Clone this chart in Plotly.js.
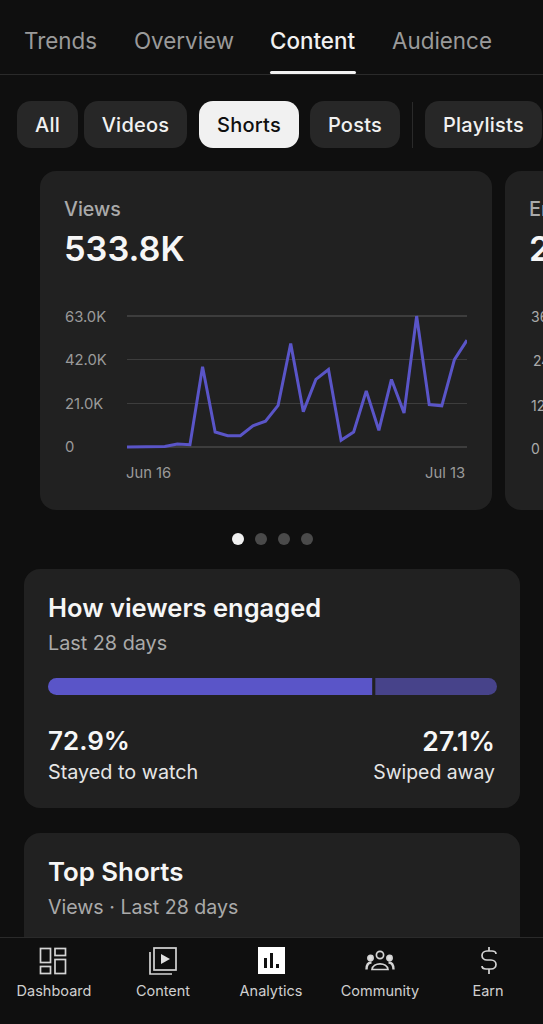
<!DOCTYPE html>
<html><head><meta charset="utf-8">
<script src="https://cdn.plot.ly/plotly-3.0.1.min.js"></script>
<style>
html,body{margin:0;padding:0;background:#0f0f0f;width:543px;height:1024px;overflow:hidden;font-family:Inter,"Noto Sans",sans-serif;color:#f1f1f1}
.a{position:absolute;white-space:nowrap}
.tab{top:27px;font-size:22.4px;line-height:28px;color:#9a9a9a}
.pill{top:101px;height:47px;border-radius:14px;background:#272727;font-size:20px;letter-spacing:.25px;font-weight:500;line-height:49px;text-align:center;color:#f1f1f1}
.card{background:#212121;border-radius:16px}
.dot{top:533px;width:12px;height:12px;border-radius:50%;background:#4a4a4a}
.nav{top:982px;font-size:14.5px;line-height:18px;color:#d0d0d0;transform:translateX(-50%)}
svg.ic{position:absolute;top:947px;fill:none;stroke:#d4d4d4;stroke-width:1.7}
</style></head><body>
<div class="a tab" style="left:24px">Trends</div>
<div class="a tab" style="left:134px">Overview</div>
<div class="a tab" style="left:270px;color:#f1f1f1;font-weight:500">Content</div>
<div class="a tab" style="left:392px">Audience</div>
<div class="a" style="left:0;top:74px;width:543px;height:1px;background:#2a2a2a"></div>
<div class="a" style="left:270px;top:71px;width:86px;height:3px;background:#f1f1f1;border-radius:2px"></div>

<div class="a pill" style="left:17px;width:61px">All</div>
<div class="a pill" style="left:84px;width:103px">Videos</div>
<div class="a pill" style="left:199px;width:100px;background:#f1f1f1;color:#0f0f0f">Shorts</div>
<div class="a pill" style="left:310px;width:90px">Posts</div>
<div class="a" style="left:412px;top:102px;width:1px;height:46px;background:#2a2a2a"></div>
<div class="a pill" style="left:425px;width:117px">Playlists</div>

<div class="a card" style="left:40px;top:171px;width:452px;height:339px"></div>
<div class="a" style="left:64px;top:197px;font-size:19.6px;line-height:24px;color:#aaa;font-weight:500">Views</div>
<div class="a" style="left:64px;top:229px;font-size:34.3px;line-height:40px;font-weight:600;color:#f6f6f6">533.8K</div>
<div id="chart" class="a" style="left:40px;top:290px;width:452px;height:200px"></div>

<div class="a card" style="left:505px;top:171px;width:60px;height:339px;overflow:hidden">
  <div class="a" style="left:24px;top:26px;font-size:20px;line-height:24px;color:#aaa;font-weight:500">En</div>
  <div class="a" style="left:24px;top:58px;font-size:34px;line-height:40px;font-weight:600;color:#f6f6f6">2</div>
  <div class="a" style="left:26px;top:137px;font-size:14px;line-height:18px;color:#aaa">36</div>
  <div class="a" style="left:28px;top:181px;font-size:14px;line-height:18px;color:#aaa">24</div>
  <div class="a" style="left:26px;top:226px;font-size:14px;line-height:18px;color:#aaa">12</div>
  <div class="a" style="left:26px;top:269px;font-size:14px;line-height:18px;color:#aaa">0</div>
</div>

<div class="a dot" style="left:232px;background:#f1f1f1"></div>
<div class="a dot" style="left:255px"></div>
<div class="a dot" style="left:278px"></div>
<div class="a dot" style="left:301px"></div>

<div class="a card" style="left:24px;top:569px;width:496px;height:239px"></div>
<div class="a" style="left:48px;top:593px;font-size:25.5px;line-height:30px;font-weight:600;color:#f6f6f6">How viewers engaged</div>
<div class="a" style="left:48px;top:631px;font-size:19.8px;line-height:24px;color:#aaa">Last 28 days</div>
<div class="a" style="left:48px;top:678px;width:449px;height:17px;border-radius:8.5px;overflow:hidden"><div id="bar" style="width:449px;height:17px"></div></div>
<div class="a" style="left:48px;top:725px;font-size:26px;line-height:32px;font-weight:600;color:#f6f6f6">72.9%</div>
<div class="a" style="left:48px;top:760px;font-size:19.8px;line-height:24px;color:#e6e6e6">Stayed to watch</div>
<div class="a" style="right:48px;top:725px;font-size:26.6px;line-height:32px;font-weight:600;color:#f6f6f6">27.1%</div>
<div class="a" style="right:48px;top:760px;font-size:19.4px;line-height:24px;color:#e6e6e6">Swiped away</div>

<div class="a card" style="left:24px;top:833px;width:496px;height:120px"></div>
<div class="a" style="left:48px;top:857px;font-size:25.8px;line-height:30px;font-weight:600;color:#f6f6f6">Top Shorts</div>
<div class="a" style="left:48px;top:895px;font-size:19.6px;line-height:24px;color:#aaa">Views · Last 28 days</div>

<div class="a" style="left:0;top:937px;width:543px;height:87px;background:#0f0f0f;border-top:1px solid #2a2a2a"></div>
<svg class="ic" style="left:39px" width="28" height="28" viewBox="0 0 28 28"><rect x="1.5" y="1.5" width="10" height="14"/><rect x="16" y="1.5" width="10.5" height="7"/><rect x="16" y="12.5" width="10.5" height="14"/><rect x="1.5" y="19.5" width="10" height="7"/></svg>
<svg class="ic" style="left:148px" width="30" height="28" viewBox="0 0 30 28"><rect x="6" y="1" width="22" height="22"/><path d="M2 5V27H24"/><path d="M13 7L22 12L13 17Z" fill="#e0e0e0" stroke="none"/></svg>
<svg class="ic" style="left:258px;stroke:none" width="27" height="27" viewBox="0 0 27 27"><rect width="27" height="27" fill="#fff"/><rect x="6" y="11" width="3" height="10" fill="#111"/><rect x="12" y="6" width="3" height="15" fill="#111"/><rect x="18" y="17" width="3" height="4" fill="#111"/></svg>
<svg class="ic" style="left:365px" width="30" height="28" viewBox="0 0 30 28"><circle cx="15" cy="8" r="3.6"/><path d="M7 22.5C8 15 22 15 23 22.5Z"/><circle cx="5.5" cy="11" r="2.6" fill="#e0e0e0"/><circle cx="24.5" cy="11" r="2.6" fill="#e0e0e0"/><path d="M1.5 22.5C1.5 18 3 15.5 6.5 15.5M28.5 22.5C28.5 18 27 15.5 23.5 15.5" stroke-width="2.4"/></svg>
<svg class="ic" style="left:476px" width="26" height="30" viewBox="0 0 26 30"><path d="M20 7C20 5 18 4 16 4H11C8 4 6 6 6 8.5S8 13 11 13H15C18 13 20 15 20 17.5S18 22 15 22H10C8 22 6 21 6 19M13 0V4M13 22V27"/></svg>
<div class="a nav" style="left:54px">Dashboard</div>
<div class="a nav" style="left:163px">Content</div>
<div class="a nav" style="left:271px">Analytics</div>
<div class="a nav" style="left:380px">Community</div>
<div class="a nav" style="left:488px">Earn</div>

<script>
const days = ["Jun 16","Jun 17","Jun 18","Jun 19","Jun 20","Jun 21","Jun 22","Jun 23","Jun 24","Jun 25","Jun 26","Jun 27","Jun 28","Jun 29","Jun 30","Jul 1","Jul 2","Jul 3","Jul 4","Jul 5","Jul 6","Jul 7","Jul 8","Jul 9","Jul 10","Jul 11","Jul 12","Jul 13"];
const views = [0,0,0,200,1400,1100,38600,7200,5400,5400,10200,12400,20000,49800,17000,32500,37300,3200,7200,27000,8000,32500,16300,63000,20400,19800,42000,51400];
const yTickVals = [0,21000,42000,63000];
const yTickLabels = ["0","21.0K","42.0K","63.0K"];
const xLabels = ["Jun 16","Jul 13"];
const engagedLabels = ["Stayed to watch","Swiped away"];
const engagedValues = [72.9,27.1];

const tickFont = {family:'Inter, sans-serif',size:14.8,color:'#9a9a9a'};
const chartAnn = yTickLabels.map((t,i)=>({xref:'paper',yref:'y',x:(64-126.7)/340,y:yTickVals[i],yshift:-0.5,text:t,showarrow:false,xanchor:'left',yanchor:'middle',borderpad:0,font:tickFont}));
chartAnn.push({xref:'x',yref:'paper',x:days.indexOf(xLabels[0]),y:0,yshift:-24,text:xLabels[0],showarrow:false,xanchor:'left',yanchor:'middle',borderpad:0,font:tickFont,xshift:-2});
chartAnn.push({xref:'x',yref:'paper',x:days.indexOf(xLabels[1]),y:0,yshift:-24,text:xLabels[1],showarrow:false,xanchor:'right',yanchor:'middle',borderpad:0,font:tickFont,xshift:-1});

Plotly.newPlot('chart',[{type:'scatter',mode:'lines',x:days,y:views,cliponaxis:false,hoverinfo:'skip',
  line:{color:'#5a55c8',width:3,shape:'linear'}}],{
  width:452,height:200,margin:{l:86.7,r:25.3,t:23.6,b:40.6},
  paper_bgcolor:'rgba(0,0,0,0)',plot_bgcolor:'rgba(0,0,0,0)',showlegend:false,
  xaxis:{type:'category',range:[0,27],showgrid:false,zeroline:false,showticklabels:false,ticks:'',showline:false},
  yaxis:{range:[-1000,64000],tickvals:yTickVals,showticklabels:false,ticks:'',gridcolor:'#3d3d3d',gridwidth:1.5,zeroline:false,showline:false},
  annotations:chartAnn
},{displayModeBar:false,staticPlot:true});

Plotly.newPlot('bar',[
 {type:'bar',orientation:'h',y:['e'],x:[engagedValues[0]],name:engagedLabels[0],marker:{color:'#5a55c8'},hoverinfo:'skip'},
 {type:'bar',orientation:'h',y:['e'],x:[engagedValues[1]],name:engagedLabels[1],marker:{color:'#47438a'},hoverinfo:'skip'}
],{
  width:449,height:17,margin:{l:0,r:0,t:0,b:0,pad:0},barmode:'stack',bargap:0,
  paper_bgcolor:'rgba(0,0,0,0)',plot_bgcolor:'rgba(0,0,0,0)',showlegend:false,
  xaxis:{range:[0,100],visible:false},yaxis:{visible:false},
  shapes:[{type:'rect',xref:'x',yref:'paper',x0:engagedValues[0]-0.7,x1:engagedValues[0],y0:0,y1:1,fillcolor:'#212121',line:{width:0}}]
},{displayModeBar:false,staticPlot:true});
</script>
</body></html>
